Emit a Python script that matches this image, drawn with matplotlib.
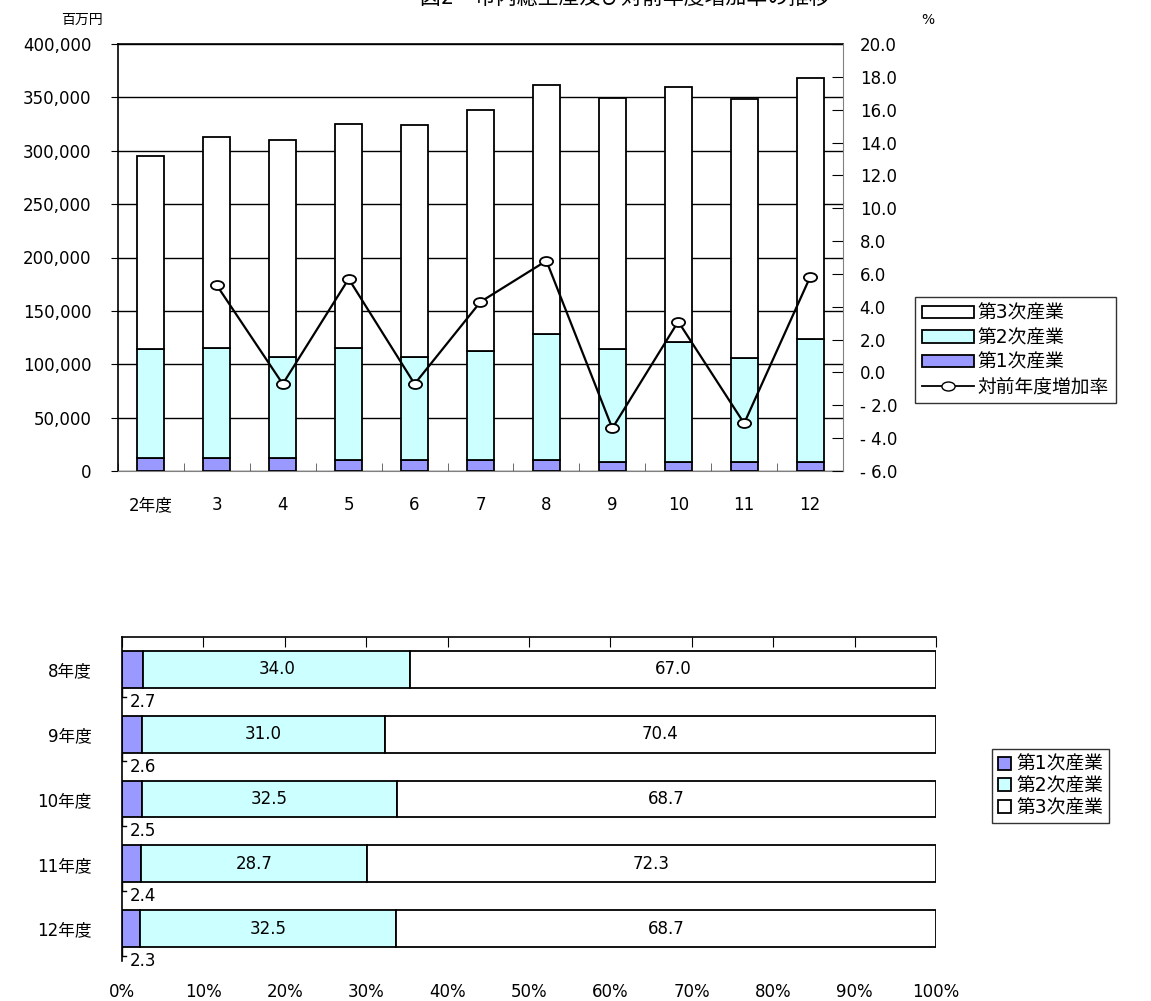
import numpy as np
import matplotlib
matplotlib.use('Agg')
import matplotlib.pyplot as plt
from matplotlib.patches import Patch
from matplotlib.lines import Line2D
from matplotlib.path import Path
from matplotlib.ticker import FuncFormatter, MultipleLocator

plt.rcParams['font.family'] = ['DejaVu Sans', 'Noto Sans CJK JP']

# 市内総生産（百万円）
years = ['2年度', '3', '4', '5', '6', '7', '8', '9', '10', '11', '12']
sector1 = [11900, 11900, 11900, 10300, 10300, 10300, 10300, 8700, 8700, 8700, 8700]
sector2 = [102100, 103300, 95200, 104900, 96800, 102100, 118000, 105300, 112400, 96800, 115200]
sector3 = [181000, 197400, 202900, 210100, 217000, 226100, 233300, 235700, 238900, 243000, 244500]
# 対前年度増加率（%）
growth = [np.nan, 5.3, -0.7, 5.7, -0.7, 4.3, 6.8, -3.4, 3.1, -3.1, 5.8]

# 産業別構成比
share_years = ['8年度', '9年度', '10年度', '11年度', '12年度']
share1 = [2.7, 2.6, 2.5, 2.4, 2.3]
share2 = [34.0, 31.0, 32.5, 28.7, 32.5]
share3 = [67.0, 70.4, 68.7, 72.3, 68.7]

names = ['第1次産業', '第2次産業', '第3次産業']
colors = ['#9999FF', '#CCFFFF', '#FFFFFF']

W, H = 1151, 1001
fig = plt.figure(figsize=(W / 100, H / 100), dpi=100)

def px_axes(x0, y0, x1, y1):
    return fig.add_axes([x0 / W, 1 - y1 / H, (x1 - x0) / W, (y1 - y0) / H])

fs = 12
lfs = 13.5

# ---- upper chart: stacked bars + growth line ----
ax = px_axes(118, 44, 843, 471)
x = np.arange(len(years))
s1 = np.array(sector1)
s2 = np.array(sector2)
s3 = np.array(sector3)
bw = 0.41
ax.bar(x, s1, bw, color=colors[0], edgecolor='black', lw=1.3, zorder=3)
ax.bar(x, s2, bw, bottom=s1, color=colors[1], edgecolor='black', lw=1.3, zorder=3)
ax.bar(x, s3, bw, bottom=s1 + s2, color=colors[2], edgecolor='black', lw=1.3, zorder=3)
ax.set_xlim(-0.5, len(years) - 0.5)
ax.set_ylim(0, 400000)
ax.yaxis.set_major_locator(MultipleLocator(50000))
ax.yaxis.set_major_formatter(FuncFormatter(lambda v, p: f'{int(v):,}'))
ax.grid(axis='y', color='black', lw=1, zorder=1)
ax.set_xticks(x)
ax.set_xticklabels(years)
ax.set_xticks(np.arange(-0.5, len(years)), minor=True)
ax.tick_params(axis='x', which='major', length=0, pad=18, labelsize=fs)
ax.tick_params(axis='x', which='minor', length=6, direction='in', color='#555555')
ax.tick_params(axis='y', length=5, direction='out', pad=14, labelsize=fs)
ax.spines['bottom'].set_color('#808080')
ax.spines['right'].set_visible(False)
ax.spines['left'].set_linewidth(1.2)
ax.spines['top'].set_linewidth(1.2)

ax2 = ax.twinx()
ax2.set_ylim(-6, 20)
ax2.yaxis.set_major_locator(MultipleLocator(2))
ax2.yaxis.set_major_formatter(FuncFormatter(lambda v, p: f'{v:.1f}'.replace('-', '- ')))
ax2.tick_params(axis='y', length=8, direction='in', pad=12, labelsize=fs)
ax2.spines['right'].set_color('#808080')
for s in ['top', 'left', 'bottom']:
    ax2.spines[s].set_visible(False)

ell = Path.unit_circle()
ell = Path(ell.vertices * np.array([1.0, 0.68]), ell.codes)
ax2.plot(x, growth, color='black', lw=1.6, marker=ell, markersize=9.5,
         markerfacecolor='white', markeredgecolor='black', markeredgewidth=1.3, zorder=4)

fig.text(82 / W, 1 - 20 / H, '百万円', fontsize=10, ha='center', va='center')
fig.text(928 / W, 1 - 20 / H, '%', fontsize=10, ha='center', va='center')
fig.text(625 / W, 1 + 2 / H, '図2　市内総生産及び対前年度増加率の推移', fontsize=15,
         ha='center', va='center')

handles = [Patch(facecolor=colors[2], edgecolor='black', lw=1.3),
           Patch(facecolor=colors[1], edgecolor='black', lw=1.3),
           Patch(facecolor=colors[0], edgecolor='black', lw=1.3),
           Line2D([], [], color='black', lw=1.3, marker=ell, markersize=9.5,
                  markerfacecolor='white', markeredgecolor='black')]
labels = [names[2], names[1], names[0], '対前年度増加率']
leg = fig.legend(handles, labels, loc='upper left', bbox_to_anchor=(915 / W, 1 - 297 / H),
                 fontsize=lfs, frameon=True, fancybox=False, edgecolor='black',
                 handlelength=2.8, handleheight=0.65, handletextpad=0.2,
                 labelspacing=0.3, borderpad=0.35, borderaxespad=0)
leg.get_frame().set_linewidth(1)

# ---- lower chart: 100% stacked horizontal bars ----
bx = px_axes(122, 637, 936, 961)
a1 = np.array(share1)
a2 = np.array(share2)
a3 = np.array(share3)
tot = a1 + a2 + a3
p1 = a1 / tot * 100
p2 = a2 / tot * 100
p3 = a3 / tot * 100
yy = np.arange(len(share_years))
bh = 0.57
bx.barh(yy, p1, bh, color=colors[0], edgecolor='black', lw=1.3)
bx.barh(yy, p2, bh, left=p1, color=colors[1], edgecolor='black', lw=1.3)
bx.barh(yy, p3, bh, left=p1 + p2, color=colors[2], edgecolor='black', lw=1.3)
bx.set_xlim(0, 100)
bx.set_ylim(len(share_years) - 0.5, -0.5)

for i in range(len(share_years)):
    bx.text(p1[i] + p2[i] / 2, yy[i], f'{share2[i]:.1f}', ha='center', va='center', fontsize=fs)
    bx.text(p1[i] + p2[i] + p3[i] / 2, yy[i], f'{share3[i]:.1f}', ha='center', va='center', fontsize=fs)
    yb = yy[i] + bh / 2
    yl = yy[i] + 0.42
    bx.plot([0, 0, 0.5], [yb, yl, yl], color='black', lw=1, clip_on=False)
    bx.text(1.0, yy[i] + 0.5, f'{share1[i]:.1f}', ha='left', va='center', fontsize=fs)

bx.set_yticks(yy)
bx.set_yticklabels(share_years)
bx.tick_params(axis='y', length=0, pad=22, labelsize=fs)
bx.set_xticks(np.arange(0, 101, 10))
bx.xaxis.set_major_formatter(FuncFormatter(lambda v, p: f'{int(v)}%'))
bx.tick_params(axis='x', top=True, bottom=False, labeltop=False, labelbottom=True,
               direction='in', length=7, pad=16, labelsize=fs)
bx.spines['bottom'].set_visible(False)
bx.spines['right'].set_visible(False)
bx.spines['top'].set_linewidth(1.2)
bx.spines['left'].set_linewidth(1.2)

h2 = [Patch(facecolor=c, edgecolor='black', lw=1.3) for c in colors]
leg2 = fig.legend(h2, names, loc='upper left', bbox_to_anchor=(992 / W, 1 - 749 / H),
                  fontsize=lfs, frameon=True, fancybox=False, edgecolor='black',
                  handlelength=0.7, handleheight=0.7, handletextpad=0.3,
                  labelspacing=0.15, borderpad=0.3, borderaxespad=0)
leg2.get_frame().set_linewidth(1)

fig.savefig('out.png', dpi=100)
